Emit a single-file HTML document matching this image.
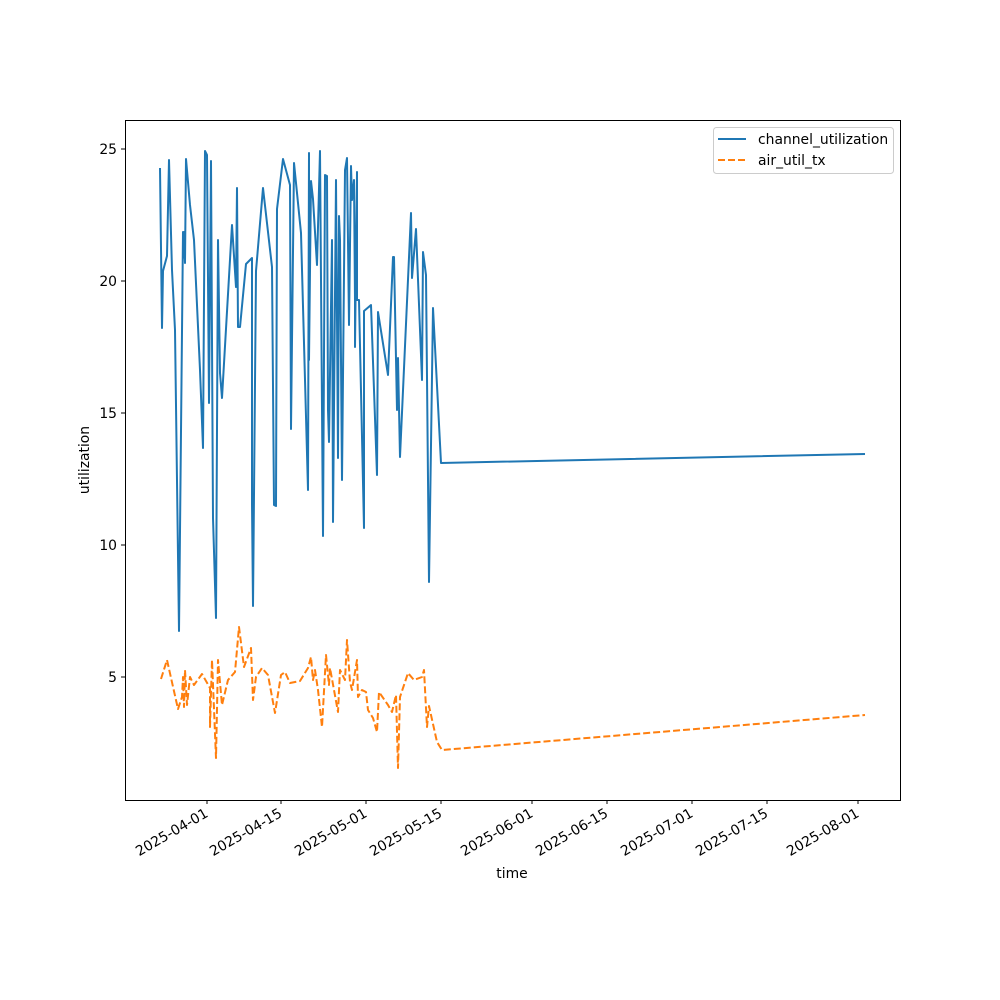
<!DOCTYPE html>
<html><head><meta charset="utf-8"><style>body{margin:0;background:#fff}svg{display:block}</style></head>
<body>
<svg width="1000" height="1000" xmlns="http://www.w3.org/2000/svg" font-family="DejaVu Sans, Liberation Sans, sans-serif" font-size="13.9">
<rect width="1000" height="1000" fill="#fff"/>
<polyline fill="none" stroke="#1f77b4" stroke-width="2" stroke-linejoin="round" points="160,168 162,328 163,271 167,256 169,160 172,270 175,330 179,631 183,232 183,258 184,232 185,263 186,159 190,205 194,240 200,370 203,448 205,151 207,155 209,403 211,161 213,518 216,618 218,240 220,373 222,398 232,225 236,287 237,188 238,327 240,327 246,264 252,258 252,504 253,606 256,271 263,188 272,267 274,505 276,506 277,209 283,159 290,185 291,429 294,163 301,233 308,490 309,153 309,360 311,181 313,199 317,265 320,151 323,536 325,175 327,176 328,410 329,442 332,240 333,522 336,180 338,458 339,216 340,240 342,480 345,170 347,158 349,325 351,166 352,200 354,180 355,300 355,347 357,172 357,300 359,300 364,528 364,311 371,305 377,475 378,312 388,375 393,257 394,257 397,410 398,358 400,457 411,213 412,278 416,229 422,380 423,252 426,275 429,582 433,308 441,463 865,454"/>
<polyline fill="none" stroke="#ff7f0e" stroke-width="2" stroke-dasharray="7,3" stroke-linejoin="round" points="161,679 167,660 178,709 182,697 183,677 184,707 185,670 187,705 190,677 194,685 202,674 210,688 210,727 212,660 216,758 218,660 222,705 228,680 235,672 239,627 244,667 251,648 253,700 256,677 262,668 268,675 275,713 281,675 285,672 290,683 300,681 308,668 311,657 313,680 315,670 318,690 322,727 326,655 329,685 330,668 338,712 340,670 345,680 347,640 350,682 352,690 357,660 358,697 362,690 366,692 368,710 373,718 377,732 379,692 388,705 392,712 396,695 398,768 400,697 408,673 414,680 422,677 424,670 427,727 429,706 437,742 442,750 865,715"/>
<rect x="125.5" y="120.5" width="775" height="680" fill="none" stroke="#000" stroke-width="1"/>
<g stroke="#000">
<line x1="125" x2="121" y1="149" y2="149"/><line x1="125" x2="121" y1="281" y2="281"/><line x1="125" x2="121" y1="413" y2="413"/><line x1="125" x2="121" y1="545" y2="545"/><line x1="125" x2="121" y1="677" y2="677"/>
<line x1="207" x2="207" y1="800" y2="804"/><line x1="281" x2="281" y1="800" y2="804"/><line x1="366" x2="366" y1="800" y2="804"/><line x1="441" x2="441" y1="800" y2="804"/><line x1="532" x2="532" y1="800" y2="804"/><line x1="607" x2="607" y1="800" y2="804"/><line x1="692" x2="692" y1="800" y2="804"/><line x1="767" x2="767" y1="800" y2="804"/><line x1="858" x2="858" y1="800" y2="804"/>
</g>
<g text-anchor="end">
<text x="117" y="154">25</text><text x="117" y="286">20</text><text x="117" y="418">15</text><text x="117" y="550">10</text><text x="117" y="682">5</text>
</g>
<g text-anchor="end">
<text transform="translate(209,816) rotate(-30)">2025-04-01</text>
<text transform="translate(283,816) rotate(-30)">2025-04-15</text>
<text transform="translate(368,816) rotate(-30)">2025-05-01</text>
<text transform="translate(443,816) rotate(-30)">2025-05-15</text>
<text transform="translate(534,816) rotate(-30)">2025-06-01</text>
<text transform="translate(609,816) rotate(-30)">2025-06-15</text>
<text transform="translate(694,816) rotate(-30)">2025-07-01</text>
<text transform="translate(769,816) rotate(-30)">2025-07-15</text>
<text transform="translate(860,816) rotate(-30)">2025-08-01</text>
</g>
<text x="512" y="878" text-anchor="middle">time</text>
<text transform="translate(89,460) rotate(-90)" text-anchor="middle">utilization</text>
<rect x="713.5" y="127.5" width="180" height="46" rx="3" fill="#fff" stroke="#ccc"/>
<line x1="718" x2="746" y1="139" y2="139" stroke="#1f77b4" stroke-width="2"/>
<line x1="718" x2="746" y1="160" y2="160" stroke="#ff7f0e" stroke-width="2" stroke-dasharray="7,3"/>
<text x="758" y="144">channel_utilization</text>
<text x="758" y="165">air_util_tx</text>
</svg>
</body></html>
